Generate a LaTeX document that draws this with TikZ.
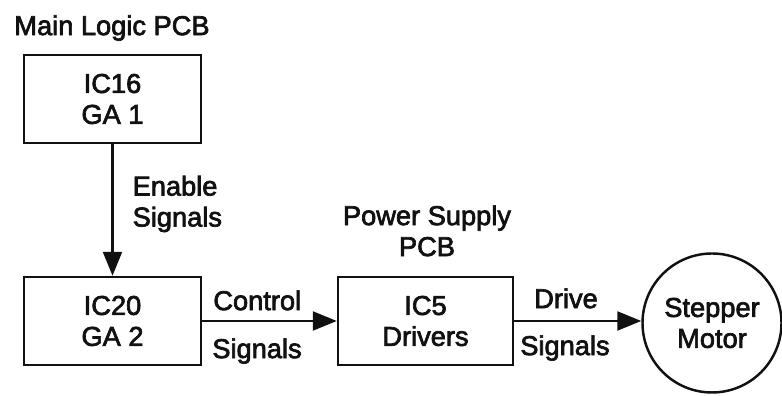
\documentclass[tikz,border=0pt]{standalone}
\usepackage{fontspec}
\setmainfont[FakeBold=2.5]{Liberation Sans}
\usepackage{tikz}
\usetikzlibrary{arrows.meta,positioning,calc}
\definecolor{ink}{HTML}{111111}

\begin{document}
\begin{tikzpicture}[
  txt/.style={font=\fontsize{15.5}{17.6}\selectfont,text=ink},
  blk/.style={txt,draw=ink,line width=1.4pt,minimum width=3.54cm,minimum height=1.76cm,align=center,inner sep=0pt},
  lbl/.style={txt,inner sep=0pt,align=left},
  sig/.style={draw=ink,line width=1.3pt,-{Triangle[length=0.48cm,width=0.38cm]}}]
\useasboundingbox (0,0) rectangle (15.64,7.92);
\node[lbl,anchor=north west] (mainpcb) at (0.28,7.62) {Main Logic PCB};
\node[blk] (ic16) at (2.25,5.94) {IC16\\GA 1};
\node[blk] (ic20) at (2.25,1.5) {IC20\\GA 2};
\node[blk,minimum width=3.5cm] (ic5) at (8.51,1.5) {IC5\\Drivers};
\node[txt,draw=ink,line width=1.4pt,circle,minimum size=2.78cm,inner sep=0pt,align=center] (motor) at (14.24,1.46) {Stepper\\Motor};
\node[lbl,anchor=north,align=center] (pspcb) at (8.54,3.82) {Power Supply\\PCB};
% connectors
\draw[sig] (ic16.south) -- (ic16.south |- ic20.north) node[midway,lbl,anchor=west,xshift=0.38cm,yshift=0.12cm] (enable) {Enable\\Signals};
\draw[sig] (ic20.east) -- (ic5.west);
\draw[sig] (ic5.east) -- (ic5.east -| motor.west);
\node[lbl,anchor=north west] (ctrl) at (4.26,2.12) {Control};
\node[lbl,anchor=north west] (ctrlsig) at (4.24,1.16) {Signals};
\node[lbl,anchor=north] (drive) at (11.32,2.16) {Drive};
\node[lbl,anchor=north] (drivesig) at (11.3,1.22) {Signals};
\end{tikzpicture}
\end{document}
